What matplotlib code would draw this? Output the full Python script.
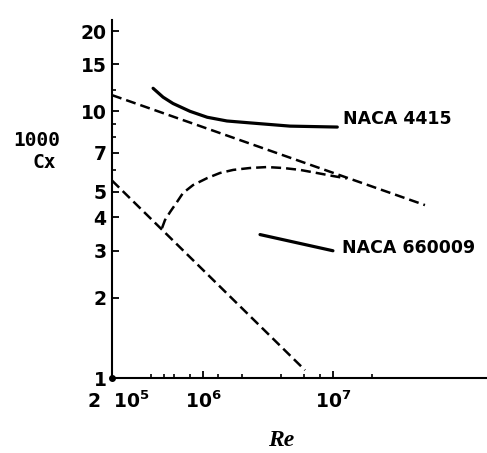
import numpy as np
import matplotlib
matplotlib.use('Agg')
import matplotlib.pyplot as plt
from matplotlib.ticker import FixedLocator, NullFormatter
import matplotlib.transforms as mtransforms

# data (Re, 1000*Cx)
re_4415 = [4.14e5, 4.94e5, 5.89e5, 7.96e5, 1.08e6, 1.53e6, 2.30e6, 4.68e6, 1.08e7]
cx_4415 = [12.2, 11.3, 10.7, 10.0, 9.5, 9.2, 9.05, 8.8, 8.73]
re_660009 = [2.75e6, 1.0e7]
cx_660009 = [3.45, 3.0]
re_turb = [2e5, 5.1e7]  # turbulent plate
cx_turb = [11.5, 4.45]
re_lam = [2e5, 6.1e6]  # laminar plate
cx_lam = [5.5, 1.07]
re_trans = [4.85e5, 5.11e5, 5.59e5, 6.32e5, 7.03e5, 8.40e5, 1.08e6, 1.35e6,
            1.71e6, 2.30e6, 3.11e6, 4.14e6, 5.59e6, 7.55e6, 1.0e7, 1.28e7]
cx_trans = [3.65, 3.91, 4.19, 4.57, 4.94, 5.29, 5.62, 5.87,
            6.03, 6.13, 6.18, 6.13, 6.03, 5.87, 5.72, 5.6]

y_ticks = [1, 2, 3, 4, 5, 7, 10, 15, 20]
y_minor = [6, 8, 9, 12]
x_ticks = [2e5, 1e6, 1e7]
x_minor = [4e5, 5e5, 6e5, 8e5, 1.3e6, 2e6, 4e6, 6e6, 8e6, 2e7]
x_ticklabels = ['2  $10^5$', '$10^6$', '$10^7$']

lab_font = 'DejaVu Sans'
plt.rcParams['font.family'] = [lab_font]
plt.rcParams['mathtext.fontset'] = 'dejavusans'
plt.rcParams['mathtext.default'] = 'bf'

W, H = 487, 453
fig = plt.figure(figsize=(W / 100, H / 100), dpi=100)
ax = fig.add_axes([112 / W, 1 - 378 / H, 375 / W, 358 / H])
ax.set_xscale('log')
ax.set_yscale('log')
ax.set_xlim(2e5, 1.53e8)
ax.set_ylim(1, 22)

dash_kw = dict(color='black', lw=1.8, dashes=(4, 2), solid_capstyle='butt')
ax.plot(re_turb, cx_turb, **dash_kw)
ax.plot(re_lam, cx_lam, **dash_kw)
ax.plot(re_trans, cx_trans, **dash_kw)
ax.plot(re_4415, cx_4415, color='black', lw=2.3, solid_capstyle='round')
ax.plot(re_660009, cx_660009, color='black', lw=2.3, solid_capstyle='round')

ax.text(1.2e7, 9.36, 'NACA 4415', fontsize=12.5, fontweight='bold',
        va='center', ha='left')
ax.text(1.18e7, 3.07, 'NACA 660009', fontsize=12.5, fontweight='bold',
        va='center', ha='left')

for s in ['top', 'right']:
    ax.spines[s].set_visible(False)
for s in ['left', 'bottom']:
    ax.spines[s].set_linewidth(1.5)

ax.yaxis.set_major_locator(FixedLocator(y_ticks))
ax.set_yticklabels([str(v) for v in y_ticks])
ax.yaxis.set_minor_locator(FixedLocator(y_minor))
ax.yaxis.set_minor_formatter(NullFormatter())
ax.xaxis.set_major_locator(FixedLocator(x_ticks))
ax.set_xticklabels(x_ticklabels)
ax.xaxis.set_minor_locator(FixedLocator(x_minor))
ax.xaxis.set_minor_formatter(NullFormatter())

ax.tick_params(which='major', direction='in', length=5, width=1.3,
               labelsize=13.5, pad=4)
ax.tick_params(axis='x', which='major', pad=9)
ax.tick_params(which='minor', direction='in', length=3, width=1.2)
for lab in ax.get_yticklabels() + ax.get_xticklabels():
    lab.set_fontweight('bold')
# shift the origin label a bit right like the scan
ax.get_xticklabels()[0].set_transform(
    ax.get_xticklabels()[0].get_transform()
    + mtransforms.ScaledTranslation(6 / 100, 0, fig.dpi_scale_trans))

ax.plot([2e5], [1], 'o', color='black', ms=4, clip_on=False)

fig.text(37 / W, 1 - 141 / H, '1000', family='DejaVu Sans Mono',
         fontweight='bold', fontsize=14, ha='center', va='center')
fig.text(44 / W, 1 - 163 / H, 'Cx', family='DejaVu Sans Mono',
         fontweight='bold', fontsize=14, ha='center', va='center')
fig.text(281 / W, 1 - 440 / H, 'Re', family='Liberation Serif',
         fontweight='bold', style='italic', fontsize=17, ha='center', va='center')

fig.savefig('out.png', dpi=100)
